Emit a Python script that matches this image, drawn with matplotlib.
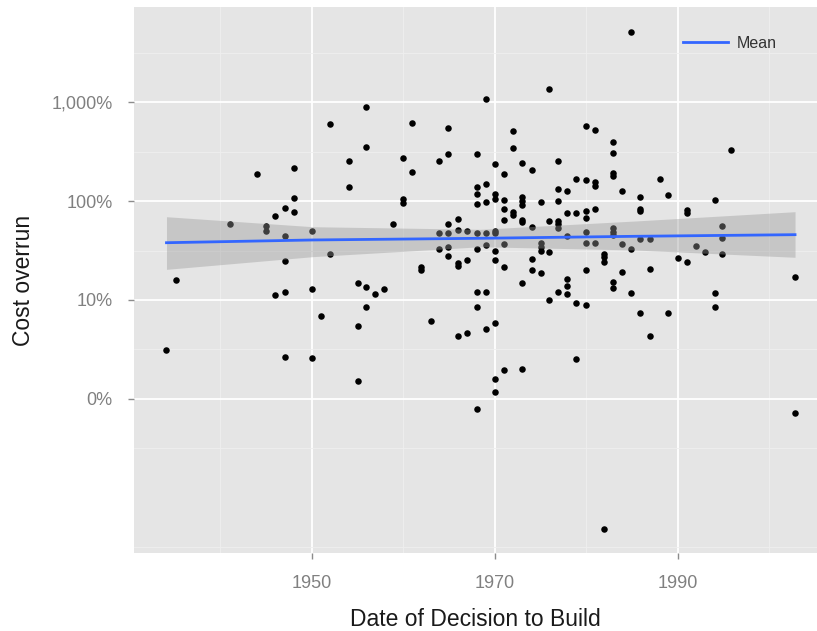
import matplotlib
matplotlib.use('Agg')
import matplotlib.pyplot as plt
from matplotlib.ticker import FixedLocator, FixedFormatter, NullFormatter

plt.rcParams['font.family'] = ['Liberation Sans', 'DejaVu Sans']

# ---- data ----
years = [
    1934.0, 1935.1, 1941.0, 1944.0, 1945.0, 1945.0, 1946.0, 1946.0, 1947.0, 1947.0,
    1947.0, 1947.0, 1947.0, 1948.0, 1948.0, 1948.0, 1950.0, 1950.0, 1950.0, 1951.0,
    1952.0, 1952.0, 1954.0, 1954.0, 1955.0, 1955.0, 1955.0, 1955.9, 1955.9, 1955.9,
    1955.9, 1956.9, 1957.9, 1958.9, 1959.9, 1959.9, 1959.9, 1960.9, 1960.9, 1961.9,
    1961.9, 1963.0, 1963.9, 1963.9, 1963.9, 1964.9, 1964.9, 1964.9, 1964.9, 1964.9,
    1964.9, 1966.0, 1966.0, 1966.0, 1966.0, 1966.0, 1966.9, 1966.9, 1966.9, 1968.0,
    1968.0, 1968.0, 1968.0, 1968.0, 1968.0, 1968.0, 1968.0, 1968.0, 1969.0, 1969.0,
    1969.0, 1969.0, 1969.0, 1969.0, 1969.0, 1970.0, 1970.0, 1970.0, 1970.0, 1970.0,
    1970.0, 1970.0, 1970.0, 1970.0, 1970.0, 1971.0, 1971.0, 1971.0, 1971.0, 1971.0,
    1971.0, 1971.0, 1972.0, 1972.0, 1972.0, 1972.0, 1973.0, 1973.0, 1973.0, 1973.0,
    1973.0, 1973.0, 1973.0, 1973.0, 1974.0, 1974.0, 1974.0, 1974.0, 1975.0, 1975.0,
    1975.0, 1975.0, 1975.0, 1975.9, 1975.9, 1975.9, 1975.9, 1976.9, 1976.9, 1976.9,
    1976.9, 1976.9, 1976.9, 1976.9, 1977.9, 1977.9, 1977.9, 1977.9, 1977.9, 1977.9,
    1978.9, 1978.9, 1978.9, 1978.9, 1979.9, 1979.9, 1979.9, 1979.9, 1979.9, 1979.9,
    1979.9, 1979.9, 1980.9, 1980.9, 1980.9, 1980.9, 1980.9, 1981.9, 1981.9, 1981.9,
    1981.9, 1982.9, 1982.9, 1982.9, 1982.9, 1982.9, 1982.9, 1982.9, 1982.9, 1982.9,
    1983.9, 1983.9, 1983.9, 1984.9, 1984.9, 1984.9, 1985.9, 1985.9, 1985.9, 1985.9,
    1985.9, 1986.9, 1986.9, 1986.9, 1988.0, 1988.9, 1988.9, 1990.0, 1991.0, 1991.0,
    1991.0, 1992.0, 1993.0, 1994.0, 1994.0, 1994.0, 1994.8, 1994.8, 1994.8, 1995.8,
    2002.8, 2002.8,
]
overrun_pct = [
    3.1, 16, 58, 189, 56, 50, 71, 11.2, 85, 44,
    24.8, 12.1, 2.66, 217, 107, 77, 50, 12.8, 2.6, 6.9,
    593, 29, 252, 139, 14.8, 5.5, 1.53, 884, 351, 13.6,
    8.4, 11.4, 12.9, 59, 275, 105, 95, 609, 198, 20.3,
    21.5, 6.1, 251, 47.8, 33, 550, 296, 59, 47.7, 34,
    27.8, 66, 51, 23.9, 22.3, 4.3, 50, 25.5, 4.6, 300,
    139, 119, 94, 47.7, 32.5, 12.1, 8.4, 0.80, 1072, 147,
    98, 47.8, 36, 12.1, 5.1, 235, 119, 105, 50, 47,
    31, 25.4, 5.9, 1.59, 1.19, 188, 103, 83, 64, 37,
    21.5, 1.97, 504, 343, 77, 72, 240, 110, 100, 91,
    65, 62, 15, 2.0, 207, 54, 25.8, 20.2, 98, 37.6,
    34.7, 31.6, 18.9, 1353, 63, 30.7, 10, 251, 133, 100,
    63, 58, 53, 12, 127, 75, 44, 16.3, 14, 11.5,
    168, 75, 9.4, 2.56, 572, 162, 80, 68, 49, 37.4,
    20.3, 9.0, 518, 154, 143, 84, 38, 29, 26.9, 24,
    0.049, 394, 303, 192, 181, 53, 49, 45, 15.1, 13.1,
    127, 36.8, 19, 5095, 32.4, 11.9, 110, 84, 79, 41.8,
    7.4, 41.8, 20.4, 4.3, 166, 115, 7.4, 26.8, 81, 76,
    24.2, 35.5, 30.3, 103, 11.9, 8.5, 56, 42, 29, 327,
    17, 0.72,
]

# fitted mean and confidence band
fit_years = [1934.1, 1950.1, 1968.4, 1985.3, 2002.8]
fit_mean = [37.9, 40.4, 42.0, 44.0, 45.7]
fit_lo = [20.4, 27.4, 34.5, 32.0, 27.0]
fit_hi = [69.4, 55.0, 51.8, 62.8, 78.0]

x_major = [1950, 1970, 1990]
x_minor = [1940, 1960, 1980, 2000]
y_major = [1, 10, 100, 1000]
y_major_labels = ['0%', '10%', '100%', '1,000%']
y_minor = [10 ** -1.5, 10 ** -0.5, 10 ** 0.5, 10 ** 1.5, 10 ** 2.5, 10 ** 3.5]

# ---- figure ----
W, H = 817, 631
fig = plt.figure(figsize=(W / 100, H / 100), dpi=100)
ax = fig.add_axes([134 / W, 1 - 553 / H, (W - 134) / W, (553 - 7) / H])
ax.set_facecolor('#E5E5E5')
for s in ax.spines.values():
    s.set_visible(False)

ax.set_yscale('log')
ax.set_xlim(1930.55, 2005.2)
ax.set_ylim(10 ** -1.556, 10 ** 3.96)

ax.scatter(years, overrun_pct, s=22, color='black', linewidths=0, zorder=2)
ax.fill_between(fit_years, fit_lo, fit_hi, color='#999999', alpha=0.4,
                linewidth=0, zorder=3)
ax.plot(fit_years, fit_mean, color='#3366FF', lw=2.0, zorder=4, label='Mean')

ax.xaxis.set_major_locator(FixedLocator(x_major))
ax.xaxis.set_minor_locator(FixedLocator(x_minor))
ax.yaxis.set_major_locator(FixedLocator(y_major))
ax.yaxis.set_major_formatter(FixedFormatter(y_major_labels))
ax.yaxis.set_minor_locator(FixedLocator(y_minor))
ax.yaxis.set_minor_formatter(NullFormatter())
ax.xaxis.set_minor_formatter(NullFormatter())

ax.set_axisbelow(True)
ax.grid(which='major', color='white', lw=1.3)
ax.grid(which='minor', color='#EFEFEF', lw=0.6)

ax.tick_params(which='major', length=4.5, width=1, color='#8C8C8C',
               labelcolor='#808080', labelsize=13, pad=11)
ax.tick_params(which='minor', length=0)

ax.set_xlabel('Date of Decision to Build', fontsize=16.5, color='#1A1A1A', labelpad=12)
ax.set_ylabel('Cost overrun', fontsize=16.5, color='#1A1A1A', labelpad=12)

leg = ax.legend(loc='center left', bbox_to_anchor=(0.804, 0.934), frameon=False,
                fontsize=11.5, handlelength=2.8, handletextpad=0.55,
                borderpad=0, borderaxespad=0)
for t in leg.get_texts():
    t.set_color('#333333')

fig.savefig('out.png', dpi=100)
